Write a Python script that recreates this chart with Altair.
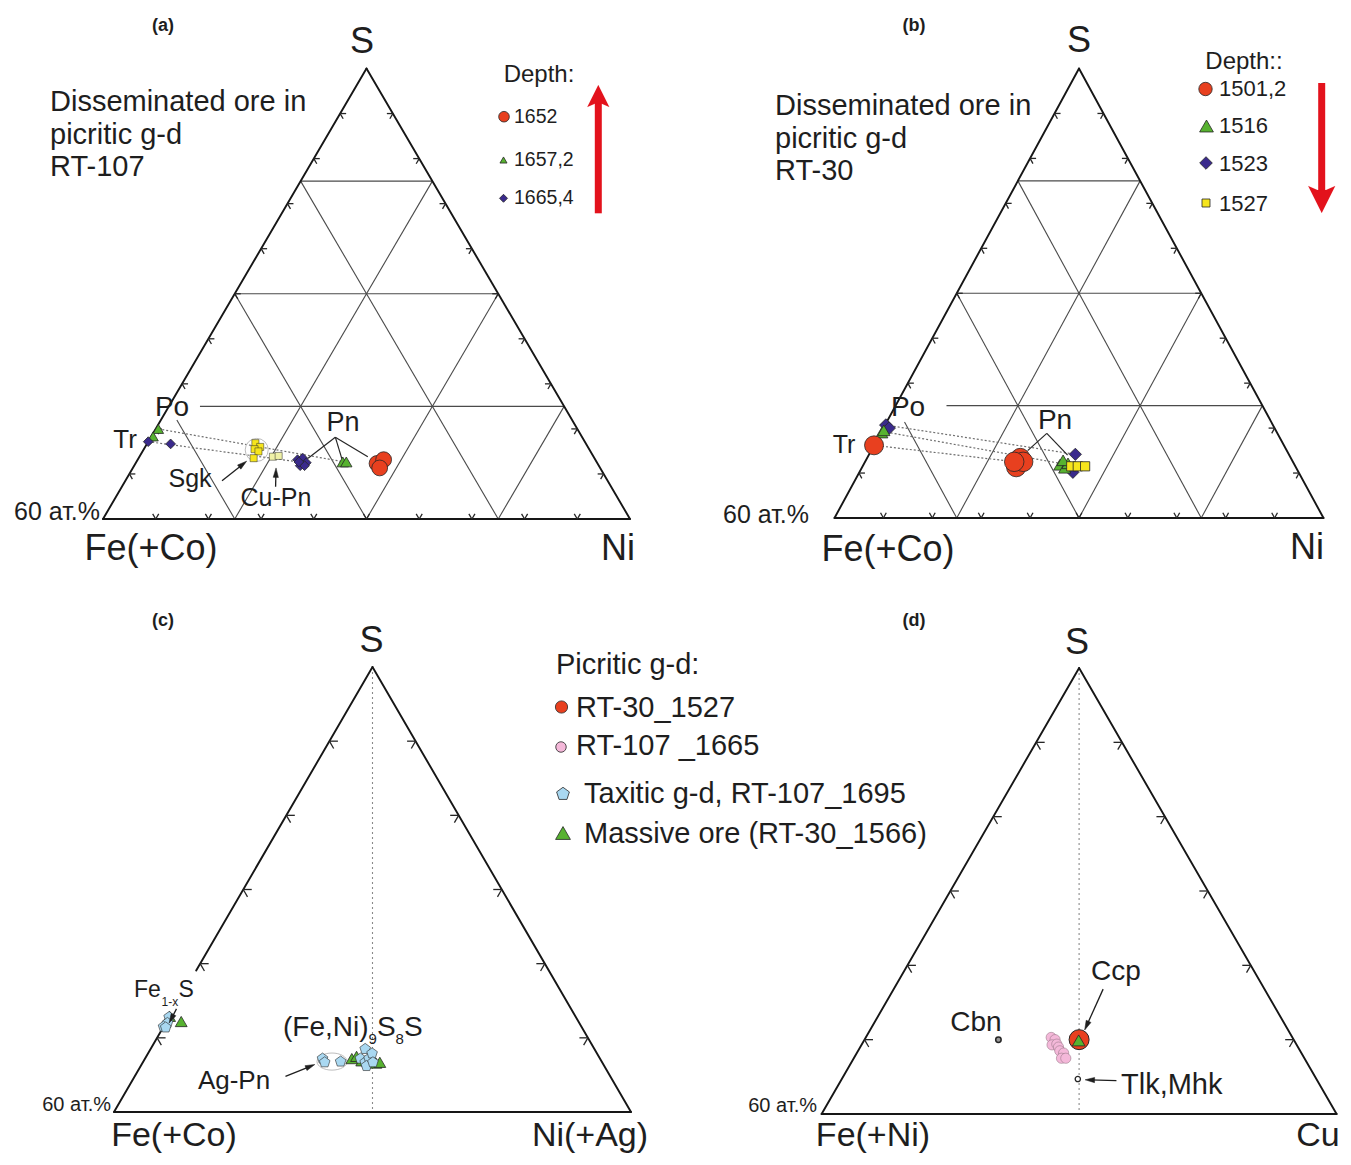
import math
import altair as alt
import pandas as pd

# ------------------------------------------------------------------
# DATA  - compositions in at.% : S and the right-hand component
#         (Ni, Ni+Ag or Cu); the left-hand component is the remainder
# ------------------------------------------------------------------
# (a) RT-107, S - Fe(+Co) - Ni
A_TR_1657_S, A_TR_1657_NI = [52.0, 51.0], [0.3, 0.2]
A_TR_1665_S, A_TR_1665_NI = [50.3, 50.0], [0.0, 2.7]
A_SGK_S = [50.1, 49.6, 49.3, 49.0, 48.1]
A_SGK_NI = [12.3, 13.1, 12.6, 13.2, 13.1]
A_CUPN_S, A_CUPN_NI = [48.3, 48.4], [15.2, 15.8]
A_PN_1665_S = [47.9, 48.1, 47.5, 47.1, 47.1, 47.6]
A_PN_1665_NI = [18.2, 18.7, 19.4, 18.9, 19.4, 18.5]
A_PN_1657_S, A_PN_1657_NI = [47.6, 47.6], [23.5, 23.9]
A_PN_1652_S, A_PN_1652_NI = [47.4, 47.9, 46.8], [27.5, 28.0, 28.1]
A_DEPTHS = ["1652", "1657,2", "1665,4"]

# (b) RT-30, S - Fe(+Co) - Ni
B_TR_1523_S, B_TR_1523_NI = [52.4, 52.0], [0.1, 0.7]
B_TR_1516_S, B_TR_1516_NI = [51.4, 51.7], [0.1, 0.2]
B_TR_1501_S, B_TR_1501_NI = [49.7], [0.0]
B_PN_1501_S = [48.0, 46.8, 47.5, 47.5]
B_PN_1501_NI = [18.8, 18.9, 19.4, 18.3]
B_PN_1523_S, B_PN_1523_NI = [48.5, 46.1], [25.3, 26.2]
B_PN_1516_S = [47.1, 46.7, 47.3, 47.7]
B_PN_1516_NI = [24.1, 24.9, 25.0, 24.2]
B_PN_1527_S, B_PN_1527_NI = [46.9, 46.9, 46.9], [25.6, 26.4, 27.3]
B_DEPTHS = ["1501,2", "1516", "1523", "1527"]

# (c) S - Fe(+Co) - Ni(+Ag)
C_PO_TAX_S, C_PO_TAX_NI = [52.8, 52.0, 51.5, 51.4], [0.0, 0.2, 0.0, 0.3]
C_PO_MAS_S, C_PO_MAS_NI = [52.9, 52.2], [0.0, 1.7]
C_AGPN_TAX_S, C_AGPN_TAX_NI = [47.2, 46.7, 46.8], [20.6, 21.1, 22.9]
C_PN_MAS_S = [47.2, 47.5, 46.9, 46.6, 46.7]
C_PN_MAS_NI = [24.0, 24.4, 25.3, 27.1, 27.5]
C_PN_TAX_S = [48.5, 47.2, 46.7, 47.2, 47.9, 46.2, 46.7]
C_PN_TAX_NI = [24.9, 25.0, 25.8, 26.0, 26.0, 26.2, 26.7]
C_LEGEND = ["RT-30_1527", "RT-107 _1665", "Taxitic g-d, RT-107_1695",
            "Massive ore (RT-30_1566)"]

# (d) S - Fe(+Ni) - Cu
D_RT107_S = [50.3, 50.0, 49.3, 49.4, 49.0, 48.5, 48.2, 47.5, 47.5]
D_RT107_CU = [21.6, 22.2, 22.2, 22.7, 23.1, 23.5, 24.1, 24.2, 24.7]
D_RT30_S, D_RT30_CU = [50.0], [25.0]
D_MAS_S, D_MAS_CU = [49.9], [25.0]
D_CBN_S, D_CBN_CU = [50.0], [15.6]
D_TLK_S, D_TLK_CU = [44.7], [27.5]

# ------------------------------------------------------------------
# LAYOUT / STYLE
# ------------------------------------------------------------------
FONT = "Liberation Sans"
INK = "#1e1e1e"
RED, GREEN, PURPLE = "#e8401f", "#57b230", "#3a2a8c"
YELLOW, LYELLOW, LBLUE, PINK = "#f6e51c", "#eff1a6", "#a9d8f1", "#f4b8d9"
ARROW_RED = "#e3121c"
PENT = "M0,-1L0.951,-0.309L0.588,0.809L-0.588,0.809L-0.951,-0.309Z"
ELLIPSE = ("M-1,0C-1,-0.3148,-0.5523,-0.57,0,-0.57C0.5523,-0.57,1,-0.3148,1,0"
           "C1,0.3148,0.5523,0.57,0,0.57C-0.5523,0.57,-1,0.3148,-1,0Z")
HEAD = "M0,-1L0.55,1L-0.55,1Z"
BIGHEAD = "M0,-1L1,1L0.32,0.7L-0.32,0.7L-1,1Z"

S_MIN, S_SPAN = 40.0, 60.0   # each triangle spans 40-100 at.% S
PANELS = {
    "a": dict(xl=103.0, xr=630.0, yb=519.0, yt=68.5),
    "b": dict(xl=834.5, xr=1323.5, yb=518.0, yt=68.5),
    "c": dict(xl=114.0, xr=631.0, yb=1112.0, yt=667.0),
    "d": dict(xl=821.6, xr=1336.6, yb=1114.0, yt=668.0),
}


def fpt(p, s, n):
    P = PANELS[p]
    x = P["xl"] + (P["xr"] - P["xl"]) * (n + s / 2)
    y = P["yb"] - (P["yb"] - P["yt"]) * s
    return x, y


def cxy(p, S, M):
    return fpt(p, (S - S_MIN) / S_SPAN, M / S_SPAN)


def seg(p, s1, n1, s2, n2):
    x1, y1 = fpt(p, s1, n1)
    x2, y2 = fpt(p, s2, n2)
    return dict(x=x1, y=y1, x2=x2, y2=y2)


def mean(v):
    return sum(v) / len(v)


# triangle outlines
outline = []
for p in "abcd":
    outline.append(seg(p, 0, 0, 0, 1))
    outline.append(seg(p, 0, 1, 1, 0))
    if p == "c":
        outline.append(seg(p, 0, 0, 0.1865, 0))
        outline.append(seg(p, 0.318, 0, 1, 0))
    else:
        outline.append(seg(p, 0, 0, 1, 0))

# 4-fold grid of (a) and (b), cut near the Po label
GRID_CUT = {"a": (0.059, 0.2198), "b": (0.104, 0.2136)}
grid = []
for p in "ab":
    cut_h, cut_d = GRID_CUT[p]
    for k in (1, 2, 3):
        t = k / 4
        grid.append(seg(p, t, cut_h if k == 1 else 0.0, t, 1 - t))
        grid.append(seg(p, 0, t, 1 - t, t))
        if k == 3:
            grid.append(seg(p, 0, 1 - t, cut_d, 1 - t - cut_d))
        else:
            grid.append(seg(p, 0, 1 - t, 1 - t, 0))

# chevron ticks
TICKS = {"a": (10, "lrb", 6.0), "b": (10, "lrb", 6.0),
         "c": (6, "lr", 8.5), "d": (6, "lr", 8.5)}
ticks = []
for p, (nd, sides, L) in TICKS.items():
    P = PANELS[p]
    W, H = P["xr"] - P["xl"], P["yb"] - P["yt"]
    e = math.hypot(W / 2, H)
    ux, uy = W / 2 / e, H / e
    for k in range(1, nd):
        f = k / nd
        tp = []
        if "l" in sides:
            tp.append((fpt(p, f, 0), [(1, 0), (ux, uy)]))
        if "r" in sides:
            tp.append((fpt(p, f, 1 - f), [(-1, 0), (-ux, uy)]))
        if "b" in sides:
            tp.append((fpt(p, 0, f), [(ux, -uy), (-ux, -uy)]))
        for (x, y), dirs in tp:
            for dx, dy in dirs:
                ticks.append(dict(x=x, y=y, x2=x + dx * L, y2=y + dy * L))

# dotted centre lines of (c) and (d)
center = [seg("c", 1, 0, 0, 0.5), seg("d", 1, 0, 0, 0.5)]

# tie lines Tr/Po -> Pn
ties = []


def tie(p, S1, M1, S2, M2):
    x1, y1 = cxy(p, S1, M1)
    x2, y2 = cxy(p, S2, M2)
    ties.append(dict(x=x1, y=y1, x2=x2, y2=y2))


tie("a", A_TR_1657_S[0], A_TR_1657_NI[0], mean(A_PN_1657_S), mean(A_PN_1657_NI))
tie("a", A_TR_1665_S[0], A_TR_1665_NI[0], mean(A_PN_1665_S), mean(A_PN_1665_NI))
tie("b", B_TR_1523_S[0], B_TR_1523_NI[0], B_PN_1523_S[0], B_PN_1523_NI[0])
tie("b", mean(B_TR_1516_S), mean(B_TR_1516_NI), mean(B_PN_1516_S), mean(B_PN_1516_NI))
tie("b", B_TR_1501_S[0], B_TR_1501_NI[0], mean(B_PN_1501_S), mean(B_PN_1501_NI))

# Pn leader lines (composition space)
LEADERS = [("a", (50.9, 21.0), [(48.1, 19.3), (48.0, 23.2), (48.3, 26.0)]),
           ("b", (51.3, 20.4), [(49.0, 19.2), (48.4, 24.4)])]
leaders = []
for p, hub, ends in LEADERS:
    hx, hy = cxy(p, *hub)
    for e_ in ends:
        ex, ey = cxy(p, *e_)
        leaders.append(dict(x=hx, y=hy, x2=ex, y2=ey))

# small black arrows (composition space): panel, S1, M1 -> S2, M2
ARROWS = [("a", 45.1, 11.0, 47.7, 12.5), ("a", 44.3, 17.5, 46.8, 16.3),
          ("c", 44.8, 17.5, 46.4, 20.1), ("c", 53.9, 0.3, 52.0, 0.4),
          ("d", 56.8, 24.4, 51.3, 25.0), ("d", 44.5, 32.1, 44.6, 28.4)]
HEAD_SIZE = 90
arrow_lines, arrow_heads = [], []
for p, S1, M1, S2, M2 in ARROWS:
    x1, y1 = cxy(p, S1, M1)
    x2, y2 = cxy(p, S2, M2)
    dx, dy = x2 - x1, y2 - y1
    Ln = math.hypot(dx, dy)
    ux_, uy_ = dx / Ln, dy / Ln
    h = math.sqrt(HEAD_SIZE)
    cx_, cy_ = x2 - ux_ * h / 2, y2 - uy_ * h / 2
    arrow_lines.append(dict(x=x1, y=y1, x2=cx_, y2=cy_))
    arrow_heads.append(dict(x=cx_, y=cy_, ang=math.degrees(math.atan2(dx, -dy)) % 360,
                            shape=HEAD, fill=INK, size=HEAD_SIZE, stroke=INK, sw=0.5))

# big red depth arrows (legend layout): tail, tip, head width
RED_ARROWS = [(598.3, 213.3, 598.3, 85.0, 22.0), (1321.7, 83.0, 1321.7, 213.0, 27.0)]
red_shafts, red_heads = [], []
for x1, y1, x2, y2, w in RED_ARROWS:
    dx, dy = x2 - x1, y2 - y1
    Ln = math.hypot(dx, dy)
    ux_, uy_ = dx / Ln, dy / Ln
    cx_, cy_ = x2 - ux_ * w / 2, y2 - uy_ * w / 2
    red_shafts.append(dict(x=x1, y=y1, x2=cx_, y2=cy_))
    red_heads.append(dict(x=cx_, y=cy_, ang=math.degrees(math.atan2(dx, -dy)) % 360,
                          shape=BIGHEAD, fill=ARROW_RED, size=w * w, stroke=ARROW_RED, sw=0.1))

# data points
pts = []


def add(p, S_list, M_list, shape, fill, size, stroke="#262626", sw=0.8):
    for S, M in zip(S_list, M_list):
        x, y = cxy(p, S, M)
        pts.append(dict(x=x, y=y, shape=shape, fill=fill, size=size,
                        stroke=stroke, sw=sw, ang=0))


# (a)
add("a", [49.2], [12.9], "circle", "transparent", 530, "#bdbdbd", 1.0)
add("a", A_TR_1657_S, A_TR_1657_NI, "triangle-up", GREEN, 110)
add("a", A_TR_1665_S, A_TR_1665_NI, "diamond", PURPLE, 95)
add("a", A_SGK_S, A_SGK_NI, "square", YELLOW, 50, sw=0.5)
add("a", A_CUPN_S, A_CUPN_NI, "square", LYELLOW, 50, sw=0.5)
add("a", A_PN_1665_S, A_PN_1665_NI, "diamond", PURPLE, 95)
add("a", A_PN_1657_S, A_PN_1657_NI, "triangle-up", GREEN, 130)
add("a", A_PN_1652_S, A_PN_1652_NI, "circle", RED, 250)
# (b)
add("b", B_TR_1523_S, B_TR_1523_NI, "diamond", PURPLE, 160)
add("b", B_TR_1516_S, B_TR_1516_NI, "triangle-up", GREEN, 150)
add("b", B_TR_1501_S, B_TR_1501_NI, "circle", RED, 360)
add("b", B_PN_1501_S, B_PN_1501_NI, "circle", RED, 380)
add("b", B_PN_1523_S, B_PN_1523_NI, "diamond", PURPLE, 150)
add("b", B_PN_1516_S, B_PN_1516_NI, "triangle-up", GREEN, 150)
add("b", B_PN_1527_S, B_PN_1527_NI, "square", YELLOW, 85)
# (c)
add("c", C_PO_MAS_S, C_PO_MAS_NI, "triangle-up", GREEN, 140)
add("c", C_PO_TAX_S, C_PO_TAX_NI, PENT, LBLUE, 125, sw=0.6)
add("c", [46.8], [21.9], ELLIPSE, "transparent", 900, "#bdbdbd", 1.0)
add("c", C_AGPN_TAX_S, C_AGPN_TAX_NI, PENT, LBLUE, 125, sw=0.6)
add("c", C_PN_MAS_S, C_PN_MAS_NI, "triangle-up", GREEN, 140)
add("c", C_PN_TAX_S, C_PN_TAX_NI, PENT, LBLUE, 125, sw=0.6)
# (d)
add("d", D_RT107_S, D_RT107_CU, "circle", PINK, 105, "#9c7a8c", 0.6)
add("d", D_RT30_S, D_RT30_CU, "circle", RED, 400, "#262626", 1.0)
add("d", D_MAS_S, D_MAS_CU, "triangle-up", GREEN, 160)
add("d", D_CBN_S, D_CBN_CU, "circle", "#9a9a9a", 30, "#262626", 1.5)
add("d", D_TLK_S, D_TLK_CU, "circle", "white", 28, "#262626", 1.3)

# legend symbols (layout)
LEG = [(504.0, 116.7, "circle", RED, 113), (503.5, 160.0, "triangle-up", GREEN, 50),
       (503.5, 198.3, "diamond", PURPLE, 64),
       (1205.5, 89.0, "circle", RED, 180), (1206.5, 126.0, "triangle-up", GREEN, 190),
       (1206.0, 163.0, "diamond", PURPLE, 160), (1206.0, 203.0, "square", YELLOW, 64),
       (561.5, 707.0, "circle", RED, 150), (561.0, 747.0, "circle", PINK, 110),
       (563.0, 794.0, PENT, LBLUE, 180), (563.0, 833.0, "triangle-up", GREEN, 220)]
for x, y, sh, fi, sz in LEG:
    pts.append(dict(x=x, y=y, shape=sh, fill=fi, size=sz, stroke="#262626", sw=0.8, ang=0))

# texts (layout): text, x, y, font size
T_CENTER = [("S", 362, 42, 36), ("Fe(+Co)", 151, 549, 36), ("Ni", 618, 549, 36),
            ("S", 1079, 41, 36), ("Fe(+Co)", 888, 550, 36), ("Ni", 1307, 548, 36),
            ("S", 371.5, 641, 36), ("Fe(+Co)", 174, 1136, 34), ("Ni(+Ag)", 590, 1136, 34),
            ("S", 1077, 643, 36), ("Fe(+Ni)", 873, 1136, 34), ("Cu", 1318, 1136, 34),
            ("Depth:", 539, 75, 24), ("Depth::", 1244, 62, 24),
            ("Po", 172, 408, 28), ("Tr", 125, 440, 26), ("Pn", 343, 423, 27),
            ("Sgk", 190, 479, 25), ("Cu-Pn", 276, 498, 25),
            ("Po", 908, 408, 28), ("Tr", 844, 445, 25), ("Pn", 1055, 421, 28),
            ("Ag-Pn", 234, 1081, 26), ("Ccp", 1116, 972, 28), ("Cbn", 976, 1023, 28)]
T_LEFT = [("Disseminated ore in", 50, 102, 29), ("picritic g-d", 50, 135, 29),
          ("RT-107", 50, 167, 29),
          ("Disseminated ore in", 775, 106, 29), ("picritic g-d", 775, 139, 29),
          ("RT-30", 775, 171, 29),
          ("Picritic g-d:", 556, 665, 29),
          ("Tlk,Mhk", 1121, 1085, 29),
          ("Fe", 134, 990, 23), ("1-x", 161.5, 1002, 12), ("S", 178.5, 990, 23),
          ("(Fe,Ni)", 283, 1028, 28), ("9", 368.5, 1039, 15), ("S", 377, 1028, 28),
          ("8", 395.5, 1039, 15), ("S", 404, 1028, 28)]
for i, lab in enumerate(A_DEPTHS):
    T_LEFT.append((lab, 514, [117, 160, 198][i], 19.5))
for i, lab in enumerate(B_DEPTHS):
    T_LEFT.append((lab, 1219, [89, 126, 164, 204][i], 22))
for i, lab in enumerate(C_LEGEND):
    T_LEFT.append((lab, [576, 576, 584, 584][i], [708, 746, 794, 834][i], 29))
T_RIGHT = [("60 ат.%", 100, 512, 25), ("60 ат.%", 809, 515, 25),
           ("60 ат.%", 111, 1105, 20), ("60 ат.%", 817, 1106, 20)]
T_BOLD = [("(a)", 163, 26, 18), ("(b)", 914, 26, 18), ("(c)", 163, 621, 18), ("(d)", 914, 621, 18)]

# ------------------------------------------------------------------
# CHART
# ------------------------------------------------------------------
XS = alt.Scale(domain=[8, 1343], nice=False, zero=False)
YS = alt.Scale(domain=[8, 1157], nice=False, zero=False, reverse=True)
X = alt.X("x:Q", scale=XS, axis=None)
Y = alt.Y("y:Q", scale=YS, axis=None)


def seg_layer(rows, color, width, dash=None, cap="butt"):
    kw = dict(color=color, strokeWidth=width, strokeCap=cap)
    if dash:
        kw["strokeDash"] = dash
    return alt.Chart(pd.DataFrame(rows)).mark_rule(**kw).encode(
        x=X, y=Y, x2="x2:Q", y2="y2:Q")


def pt_layer(rows):
    return alt.Chart(pd.DataFrame(rows)).mark_point(filled=True, opacity=1).encode(
        x=X, y=Y,
        shape=alt.Shape("shape:N", scale=None),
        fill=alt.Fill("fill:N", scale=None),
        stroke=alt.Stroke("stroke:N", scale=None),
        strokeWidth=alt.StrokeWidth("sw:Q", scale=None),
        size=alt.Size("size:Q", scale=None),
        angle=alt.Angle("ang:Q", scale=None),
    )


def text_layer(rows, align, bold=False):
    df = pd.DataFrame(rows, columns=["t", "x", "y", "fs"])
    return alt.Chart(df).mark_text(
        align=align, baseline="middle", font=FONT, color=INK,
        fontWeight="bold" if bold else "normal").encode(
        x=X, y=Y, text="t:N", size=alt.Size("fs:Q", scale=None))


layers = [
    seg_layer(grid, "#4a4a4a", 1.1),
    seg_layer(center, "#8a8a8a", 1.1, dash=[2, 3]),
    seg_layer(ties, "#6e6e6e", 1.2, dash=[2, 2]),
    seg_layer(outline, "#161616", 1.9, cap="round"),
    seg_layer(ticks, "#262626", 1.3),
    seg_layer(leaders, "#262626", 1.2),
    pt_layer(pts),
    seg_layer(arrow_lines, INK, 1.3),
    pt_layer(arrow_heads),
    seg_layer(red_shafts, ARROW_RED, 7),
    pt_layer(red_heads),
    text_layer(T_CENTER, "center"),
    text_layer(T_LEFT, "left"),
    text_layer(T_RIGHT, "right"),
    text_layer(T_BOLD, "center", bold=True),
]

chart = alt.layer(*layers).properties(
    width=1335, height=1149, padding=0,
    autosize=alt.AutoSizeParams(type="none"),
    background="white",
).configure_view(strokeWidth=0)

chart.save("out.html", embed_options={"renderer": "svg", "actions": False})
